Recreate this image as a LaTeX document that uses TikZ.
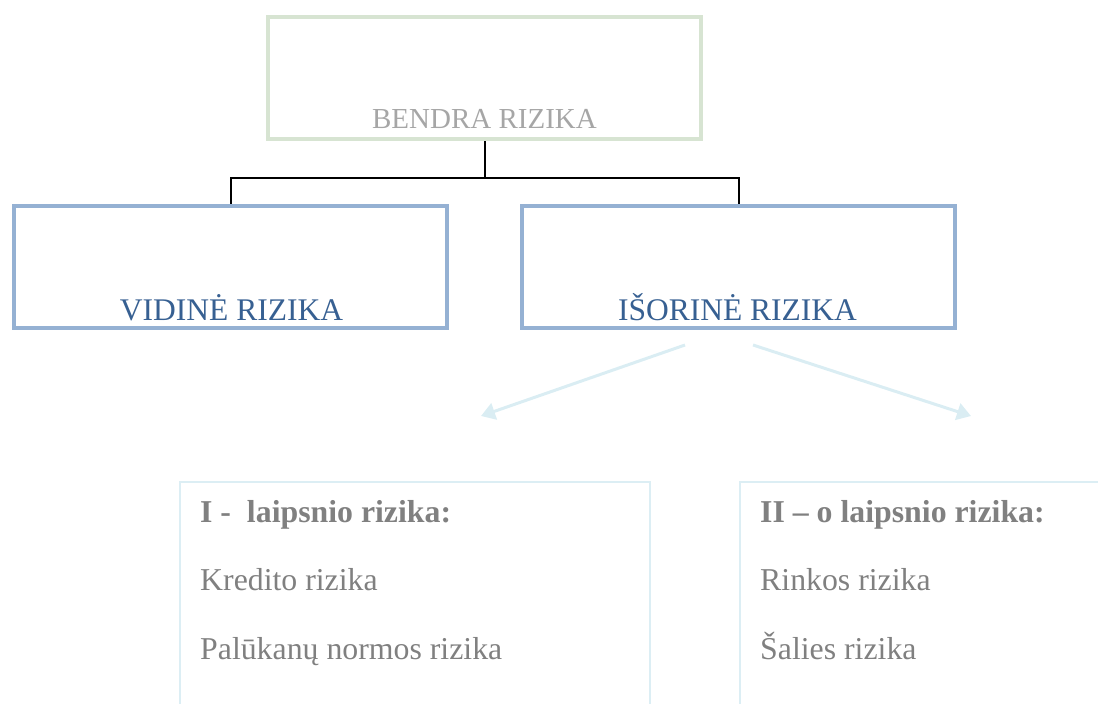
\documentclass[tikz,border=0pt]{standalone}
\usepackage{fontspec}
\setmainfont{Liberation Serif}
\usetikzlibrary{arrows.meta}
\definecolor{topline}{HTML}{D7E4D2}
\definecolor{toptxt}{HTML}{A6A6A6}
\definecolor{midline}{HTML}{95B1D3}
\definecolor{midtxt}{HTML}{376092}
\definecolor{lowline}{HTML}{DCEEF4}
\definecolor{lowtxt}{HTML}{808080}
\definecolor{arrcol}{HTML}{DAEDF3}
\tikzset{
  topbox/.style={draw=topline, line width=4pt, minimum width=433pt, minimum height=122pt, inner sep=0pt},
  midbox/.style={draw=midline, line width=4pt, minimum width=433pt, minimum height=122pt, inner sep=0pt},
  toptext/.style={text=toptxt, font=\fontsize{29}{34}\selectfont, anchor=base, inner sep=0pt},
  midtext/.style={text=midtxt, font=\fontsize{31.5}{37}\selectfont, anchor=base, inner sep=0pt},
  lowtext/.style={text=lowtxt, font=\fontsize{31.8}{37}\selectfont, anchor=base west, inner sep=0pt},
  lowbold/.style={lowtext, font=\fontsize{31.8}{37}\selectfont\bfseries},
  conn/.style={draw=black, line width=2pt},
  arr/.style={draw=arrcol, line width=3pt, -{Triangle[width=17pt,length=14pt]}},
  lowbox/.style={draw=lowline, line width=1.5pt}
}
\begin{document}
\begin{tikzpicture}[x=1pt,y=-1pt]
\useasboundingbox (0,0) rectangle (1098,704);
% top box
\node[topbox] (top) at (484.5,78) {};
\node[toptext] (toplbl) at (484.5,128) {BENDRA RIZIKA};
% middle boxes
\node[midbox] (left) at (230.5,267) {};
\node[midtext] (leftlbl) at (231.5,320) {VIDINĖ RIZIKA};
\node[midbox] (right) at (738.5,267) {};
\node[midtext] (rightlbl) at (737.5,320) {IŠORINĖ RIZIKA};
% connectors
\draw[conn] (top.south) -- ++(0,37) -| (left.north);
\draw[conn] (top.south) -- ++(0,37) -| (right.north);
% arrows
\coordinate (a1s) at (685,345);
\coordinate (a1e) at (481,416);
\coordinate (a2s) at (753,345);
\coordinate (a2e) at (971,416);
\draw[arr] (a1s) -- (a1e);
\draw[arr] (a2s) -- (a2e);
% lower boxes
\draw[lowbox] (180,482) rectangle (650,720);
\draw[lowbox] (740,482) rectangle (1110,720);
\node[lowbold] (l1) at (200,522) {I -\ \ laipsnio rizika:};
\node[lowtext] (l2) at (200,590) {Kredito rizika};
\node[lowtext] (l3) at (200,659) {Palūkanų normos rizika};
\node[lowbold] (r1) at (760,522) {II – o laipsnio rizika:};
\node[lowtext] (r2) at (760,590) {Rinkos rizika};
\node[lowtext] (r3) at (760,659) {Šalies rizika};
\end{tikzpicture}
\end{document}
